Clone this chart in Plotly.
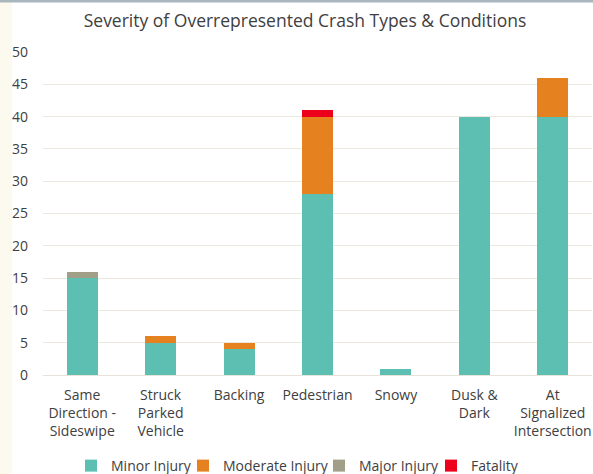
import plotly.graph_objects as go

categories = ["Same<br>Direction -<br>Sideswipe", "Struck<br>Parked<br>Vehicle", "Backing", "Pedestrian", "Snowy", "Dusk &<br>Dark", "At<br>Signalized<br>Intersection"]
minor = [15, 5, 4, 28, 1, 40, 40]
moderate = [0, 1, 1, 12, 0, 0, 6]
major = [1, 0, 0, 0, 0, 0, 0]
fatality = [0, 0, 0, 1, 0, 0, 0]

series = [
    ("Minor Injury", minor, "#5CBFB2"),
    ("Moderate Injury", moderate, "#E6811F"),
    ("Major Injury", major, "#A19F87"),
    ("Fatality", fatality, "#EC001C"),
]

W, H = 593, 474
L, R, T, B = 43, 1, 52, 99
pw, ph = W - L - R, H - T - B

font = "Open Sans, Noto Sans, sans-serif"
legend_names = ["legend", "legend2", "legend3", "legend4"]
text_starts = [111, 223, 359, 471]

fig = go.Figure()
layout_legends = {}
for (name, vals, col), lg, ts in zip(series, legend_names, text_starts):
    fig.add_trace(go.Bar(x=categories, y=vals, name=name, legend=lg, showlegend=True,
                         marker=dict(color=col, line=dict(width=0))))
    layout_legends[lg] = dict(orientation="h", x=(ts - 40 - L) / pw, xanchor="left",
                              y=-(466 - T - ph) / ph, yanchor="middle", visible=True,
                              font=dict(family=font, size=14, color="#404040"),
                              bgcolor="rgba(0,0,0,0)", itemwidth=30)

fig.update_layout(
    barmode="stack",
    bargap=0.605,
    width=W, height=H,
    showlegend=True,
    paper_bgcolor="white", plot_bgcolor="white",
    margin=dict(l=L, r=R, t=T, b=B, autoexpand=False),
    title=dict(text="Severity of Overrepresented Crash Types & Conditions", x=305 / W, xanchor="center",
               y=1 - 21 / H, yanchor="middle", font=dict(family=font, size=17.5, color="#404040")),
    font=dict(family=font, size=14, color="#404040"),
    xaxis=dict(tickfont=dict(size=14), showline=True, linecolor="#E8E3D8", linewidth=1, ticks="",
               ticklabelstandoff=7, automargin=False),
    yaxis=dict(range=[0, 50], dtick=5, gridcolor="#EDE8DD", gridwidth=1, zeroline=False,
               tickfont=dict(size=14), ticklabelstandoff=14, automargin=False),
    shapes=[
        dict(type="rect", xref="paper", yref="paper", x0=-L / pw, x1=(12 - L) / pw,
             y0=-B / ph, y1=(ph + T) / ph, fillcolor="#FCFAEF", line=dict(width=0), layer="below"),
        dict(type="rect", xref="paper", yref="paper", x0=-L / pw, x1=(W - L) / pw,
             y0=(ph + T - 2.5) / ph, y1=(ph + T) / ph,
             fillcolor="#A9B6BE", line=dict(width=0)),
    ],
    **layout_legends,
)
fig.write_html("out.html", config={"displayModeBar": False},
               post_script="document.body.style.margin='0';")
